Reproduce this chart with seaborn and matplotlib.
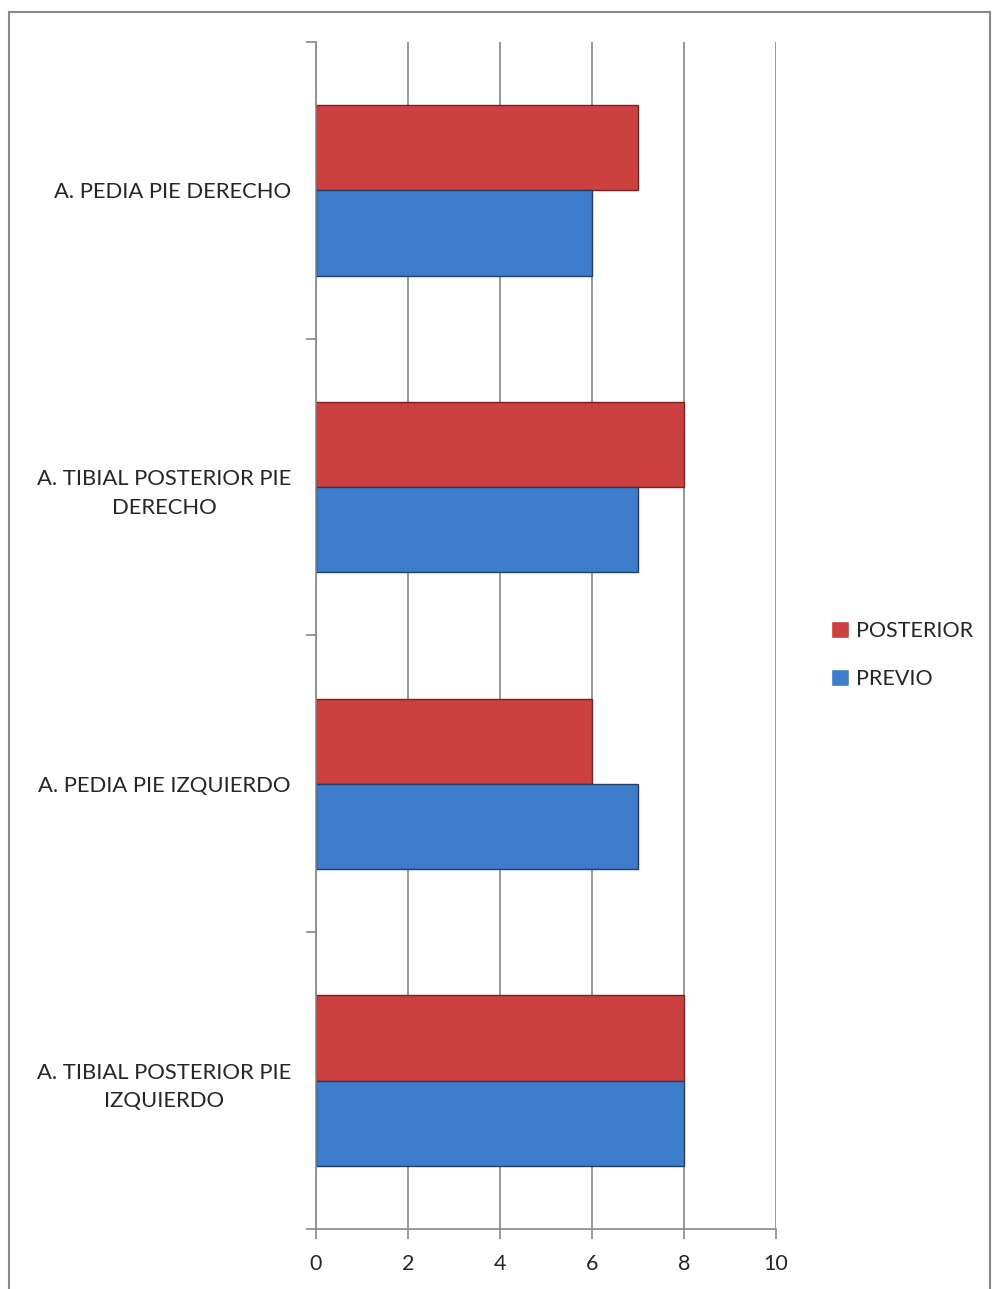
import matplotlib
matplotlib.use("Agg")
import matplotlib.pyplot as plt
import seaborn as sns
import pandas as pd
import numpy as np
from matplotlib.patches import Rectangle

categories = ["A. PEDIA PIE DERECHO", "A. TIBIAL POSTERIOR PIE\nDERECHO",
              "A. PEDIA PIE IZQUIERDO", "A. TIBIAL POSTERIOR PIE\nIZQUIERDO"]
posterior = [7, 8, 6, 8]
previo = [6, 7, 7, 8]
series = ["POSTERIOR", "PREVIO"]
colors = {"POSTERIOR": "#CC4040", "PREVIO": "#3D7DCB"}
edges = {"POSTERIOR": "#7A2020", "PREVIO": "#1F3F66"}
xticks = [0, 2, 4, 6, 8, 10]

df = pd.DataFrame({
    "cat": categories * 2,
    "val": posterior + previo,
    "serie": ["POSTERIOR"] * 4 + ["PREVIO"] * 4,
})

sns.set_theme(style="white")
plt.rcParams["font.family"] = ["Lato", "DejaVu Sans"]

fig = plt.figure(figsize=(9.92, 12.89), dpi=100)
ax = fig.add_axes([316/992, 1 - 1229/1289, (776-316)/992, (1229-42)/1289])

sns.barplot(data=df, x="val", y="cat", hue="serie", order=categories,
            hue_order=series, palette=colors, orient="h", width=0.575,
            ax=ax, legend=True, saturation=1)

for bar, s in zip(ax.patches, ["POSTERIOR"] * 4 + ["PREVIO"] * 4):
    bar.set_edgecolor(edges[s])
    bar.set_linewidth(1.0)

ax.set_xlim(0, 10)
ax.set_ylim(3.5, -0.5)
ax.set_xticks(xticks)
ax.set_xticklabels([str(t) for t in xticks], fontsize=15.5)
ax.set_xlabel("")
ax.set_ylabel("")
ax.set_yticks(range(4))
ax.set_yticklabels(categories, fontsize=15.8, multialignment="center", linespacing=1.55)
ax.set_yticks(np.arange(-0.5, 4.0, 1.0), minor=True)
ax.tick_params(axis="y", which="major", length=0, pad=18)
ax.tick_params(axis="y", which="minor", length=7, width=1.2, color="#888888", direction="out", left=True)
ax.tick_params(axis="x", which="major", length=7, width=1.2, color="#888888", direction="out", bottom=True, pad=11)
ax.xaxis.grid(True, color="#888888", linewidth=1.2)
ax.yaxis.grid(False)
ax.set_axisbelow(True)
for sp in ["top", "right"]:
    ax.spines[sp].set_visible(False)
for sp in ["left", "bottom"]:
    ax.spines[sp].set_color("#888888")
    ax.spines[sp].set_linewidth(1.2)

leg = ax.legend(loc="center left", bbox_to_anchor=(812/992, 1 - 655/1289),
                bbox_transform=fig.transFigure, frameon=False, fontsize=15.5,
                handlelength=0.8, handleheight=0.8, handletextpad=0.35, labelspacing=1.3)

fig.patches.append(Rectangle((9/992, -0.05), (990-9)/992, 1 - 12/1289 + 0.05,
                             transform=fig.transFigure, fill=False,
                             edgecolor="#888888", linewidth=1.5))

fig.savefig("out.png", dpi=100)
